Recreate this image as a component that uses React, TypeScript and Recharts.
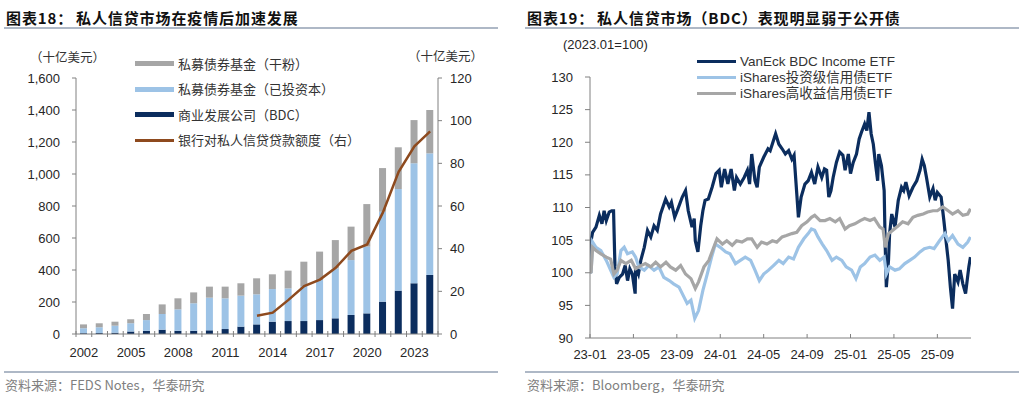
import React from "react";
import { ComposedChart, LineChart, Bar, Line, XAxis, YAxis } from "recharts";

// ---- 图表18 data (十亿美元) ----
const years = [
  2002, 2003, 2004, 2005, 2006, 2007, 2008, 2009, 2010, 2011, 2012, 2013,
  2014, 2015, 2016, 2017, 2018, 2019, 2020, 2021, 2022, 2023, 2024,
];
const bdc = [5, 6, 8, 15, 20, 27, 20, 20, 23, 31, 46, 60, 77, 81, 81, 87, 98, 119, 129, 202, 271, 317, 369];
const invested = [31, 36, 44, 52, 67, 98, 134, 172, 204, 192, 194, 188, 204, 204, 219, 250, 312, 343, 417, 562, 635, 750, 760];
const dryPowder = [24, 25, 25, 25, 38, 60, 69, 68, 69, 73, 77, 100, 92, 111, 152, 178, 177, 209, 266, 273, 261, 270, 271];
const bankLoans = [
  null, null, null, null, null, null, null, null, null, null, null,
  8.6, 10, 16, 22.5, 25.5, 31, 39, 42, 57, 76, 88, 95,
];
const leftTicks = [0, 200, 400, 600, 800, 1000, 1200, 1400, 1600];
const rightTicks = [0, 20, 40, 60, 80, 100, 120];

// ---- 图表19 data (2023.01=100), x = months since 2023-01 ----
const monthTicks = [0, 4, 8, 12, 16, 20, 24, 28, 32];
const monthLabels = ["23-01", "23-05", "23-09", "24-01", "24-05", "24-09", "25-01", "25-05", "25-09"];
const indexTicks = [90, 95, 100, 105, 110, 115, 120, 125, 130];

const vaneckBdc: [number, number][] = [
  [0, 100], [0.1, 104.9], [0.24, 106.2], [0.55, 107], [0.86, 108.8], [1.1, 107.5], [1.3, 109.5],
  [1.5, 108], [1.77, 109.3], [2.0, 109.5], [2.17, 109.5], [2.3, 100.9], [2.45, 98.3], [2.7, 99.3],
  [3.0, 99.8], [3.24, 101.1], [3.46, 98.8], [3.67, 100.6], [3.9, 99.8], [4.16, 96.8], [4.2, 100.9],
  [4.46, 99.8], [4.68, 101.9], [5.0, 103.9], [5.3, 106.5], [5.6, 105.5], [5.9, 107.2], [6.2, 106.5],
  [6.5, 109.0], [6.97, 111.3], [7.3, 110.1], [7.5, 110.8], [7.8, 108.5], [8.1, 109.8], [8.5, 111.6],
  [8.8, 112.6], [9.05, 109.5], [9.4, 107.0], [9.6, 108.3], [9.7, 104.9], [9.94, 103.2], [10.2, 107.2],
  [10.4, 109.5], [10.6, 111.1], [10.9, 111.3], [11.25, 113.1], [11.6, 115.2], [11.9, 115.7],
  [12.1, 113.1], [12.4, 115.9], [12.7, 113.6], [13.0, 115.9], [13.3, 112.6], [13.5, 114.6],
  [13.85, 113.6], [14.2, 114.6], [14.5, 115.7], [14.7, 113.6], [14.9, 118.2], [15.2, 114.1],
  [15.4, 113.1], [15.6, 116.2], [16.0, 117.7], [16.4, 119.0], [16.6, 118.7], [16.85, 120.0],
  [17.1, 121.3], [17.4, 119.7], [17.7, 119.0], [18.0, 118.2], [18.3, 118.7], [18.6, 117.4],
  [18.8, 118], [19.05, 112.1], [19.2, 108.5], [19.45, 111.6], [19.8, 113.6], [20.1, 114.1],
  [20.4, 115.4], [20.7, 113.6], [21.0, 116.2], [21.35, 114.6], [21.6, 115.9], [21.8, 115.7],
  [22.0, 111.6], [22.2, 112.6], [22.4, 114.6], [22.7, 116.9], [23.0, 118.5], [23.3, 118],
  [23.5, 115.7], [23.8, 118.2], [24.0, 115.2], [24.25, 116.9], [24.55, 118.2], [24.8, 120.5],
  [25.0, 121.5], [25.3, 122.8], [25.5, 121.8], [25.7, 124.6], [25.9, 121.3], [26.1, 119.7],
  [26.3, 116.7], [26.5, 114.1], [26.6, 118.2], [26.85, 116.4], [27.1, 112.6], [27.2, 103.9],
  [27.3, 97.8], [27.5, 101.9], [27.6, 106], [27.8, 109], [28.1, 107], [28.4, 111.1], [28.7, 113.1],
  [28.9, 112.6], [29.1, 113.9], [29.4, 111.8], [29.75, 113.1], [30.1, 114.1], [30.4, 115.7],
  [30.6, 117.4], [30.8, 116.4], [31.0, 114.6], [31.3, 111.6], [31.6, 112.9], [31.8, 111.1],
  [32.0, 112.3], [32.35, 111.6], [32.6, 108], [32.8, 104.9], [33.0, 101.9], [33.2, 97.8],
  [33.4, 94.5], [33.6, 99.8], [33.9, 98.6], [34.1, 100.4], [34.35, 98.3], [34.6, 96.8],
  [34.9, 100.9], [35.05, 102.4],
];

const igCredit: [number, number][] = [
  [0, 100], [0.1, 100.1], [0.24, 104.7], [0.55, 103.9], [1.0, 103.4], [1.5, 101.9], [1.9, 100.4],
  [2.2, 99.3], [2.5, 99.8], [2.85, 103.4], [3.15, 103.9], [3.45, 102.9], [3.9, 103.2], [4.2, 102.4],
  [4.5, 100.9], [5.0, 100.4], [5.4, 101.1], [5.9, 100.4], [6.35, 100.9], [6.8, 99.3], [7.3, 98.8],
  [7.7, 98.3], [8.2, 97.8], [8.65, 96.3], [8.95, 95.3], [9.3, 95.8], [9.65, 93.0], [10.0, 94.2],
  [10.4, 97.3], [10.8, 99.8], [11.2, 102.4], [11.55, 104.4], [12.0, 103.9], [12.5, 103.2],
  [12.9, 102.9], [13.4, 101.4], [13.85, 101.9], [14.3, 102.4], [14.8, 101.9], [15.2, 100.4],
  [15.6, 98.8], [16.0, 99.8], [16.45, 100.4], [16.9, 101.1], [17.4, 101.9], [17.8, 101.4],
  [18.3, 102.4], [18.75, 102.1], [19.2, 103.9], [19.7, 105.2], [20.1, 106], [20.4, 106.7],
  [20.7, 106.5], [21.0, 105.5], [21.4, 104.4], [21.8, 103.4], [22.3, 101.9], [22.7, 102.4],
  [23.2, 101.9], [23.6, 100.9], [24.1, 100.4], [24.5, 99.1], [24.9, 100.9], [25.3, 101.4],
  [25.8, 102.4], [26.25, 102.7], [26.7, 101.9], [27.1, 102.4], [27.3, 99.8], [27.6, 100.9],
  [28.1, 100.4], [28.5, 100.6], [29.0, 101.4], [29.45, 101.9], [29.9, 102.4], [30.4, 103.2],
  [30.8, 103.7], [31.3, 103.9], [31.7, 103.7], [32.2, 104.9], [32.7, 106], [33.0, 104.9],
  [33.4, 105.7], [33.9, 104.4], [34.35, 103.9], [34.8, 104.7], [35.05, 105.5],
];

const hyCredit: [number, number][] = [
  [0, 100], [0.1, 100.1], [0.24, 103.9], [0.55, 103.4], [1.0, 102.9], [1.5, 102.4], [1.9, 102.1],
  [2.2, 99.8], [2.5, 100.4], [2.85, 101.9], [3.3, 101.4], [3.8, 101.9], [4.2, 100.6], [4.7, 101.1],
  [5.1, 101.4], [5.6, 100.9], [6.05, 101.6], [6.5, 100.9], [7.0, 101.6], [7.4, 100.9], [7.9, 100.4],
  [8.35, 101.1], [8.8, 99.8], [9.3, 99.1], [9.7, 97.6], [10.0, 98.6], [10.5, 100.9], [10.95, 101.9],
  [11.4, 103.9], [11.7, 105.2], [12.2, 104.4], [12.6, 104.9], [13.1, 104.2], [13.5, 104.9],
  [14.0, 104.7], [14.5, 105.2], [14.9, 105.2], [15.4, 103.9], [15.8, 104.7], [16.3, 104.4],
  [16.8, 104.9], [17.2, 104.7], [17.7, 105.5], [18.1, 105.7], [18.6, 106], [19.05, 106.2],
  [19.5, 107.2], [20.0, 107.8], [20.4, 108.5], [20.7, 108.8], [21.2, 108], [21.65, 108],
  [22.1, 108.3], [22.6, 107.8], [23.0, 108.3], [23.5, 106.7], [23.9, 107.2], [24.4, 107.5],
  [24.9, 108], [25.3, 108.3], [25.8, 108], [26.2, 108.3], [26.7, 107], [27.0, 106.7], [27.2, 103.9],
  [27.5, 106], [27.9, 106.5], [28.4, 107.2], [28.8, 107.8], [29.3, 107.5], [29.75, 108.5],
  [30.2, 108.8], [30.7, 109], [31.1, 109.3], [31.6, 109.5], [32.0, 109.5], [32.5, 110.1],
  [33.0, 109.5], [33.4, 109], [33.9, 109.5], [34.35, 108.8], [34.8, 109], [35.05, 109.8],
];

const SANS = "'Liberation Sans', Arial, sans-serif";
const CJK = "'Noto Sans CJK SC', 'Liberation Sans', sans-serif";
const MIXED = "'Liberation Sans', 'Noto Sans CJK SC', sans-serif";
const TXT = "#262626";
const AXIS = "#808080";
const NAVY = "#0B2D5E";
const LIGHT = "#9DC3E6";
const GREY = "#A6A6A6";
const BROWN = "#8E4A1E";
const RULE = "#AEB8C6";

const LEFT_PLOT_W = 362;
const BAND = LEFT_PLOT_W / years.length;

const barData = years.map((y, i) => ({
  year: String(y),
  bdc: bdc[i],
  invested: invested[i],
  dry: dryPowder[i],
  loans: bankLoans[i],
}));

const toPts = (arr: [number, number][]) => arr.map(([m, v]) => ({ m, v }));

function YearTick(props: any) {
  const { x, y, payload } = props;
  const i = payload.index;
  return (
    <g>
      <line x1={x - BAND / 2} x2={x - BAND / 2} y1={y - 3} y2={y + 3} stroke={AXIS} />
      {i === years.length - 1 && (
        <line x1={x + BAND / 2} x2={x + BAND / 2} y1={y - 3} y2={y + 3} stroke={AXIS} />
      )}
      {i % 3 === 0 && (
        <text x={x} y={y + 22.5} textAnchor="middle" fontSize={13} fill={TXT} fontFamily={SANS}>
          {payload.value}
        </text>
      )}
    </g>
  );
}

function MonthTick(props: any) {
  const { x, y, payload } = props;
  const k = monthTicks.indexOf(payload.value);
  return (
    <g>
      <line x1={x} x2={x} y1={y - 4} y2={y} stroke={AXIS} />
      <text x={x} y={y + 21} textAnchor="middle" fontSize={13} fill={TXT} fontFamily={SANS}>
        {monthLabels[k]}
      </text>
    </g>
  );
}

const abs = (l: number, t: number): React.CSSProperties => ({ position: "absolute", left: l, top: t, whiteSpace: "pre" });

function Title({ left, prefix, body }: { left: number; prefix: string; body: string }) {
  const st: React.CSSProperties = { fontFamily: CJK, fontWeight: 700, fontSize: 15, color: "#111", lineHeight: "20px", letterSpacing: 0.9 };
  return (
    <>
      <div style={{ ...abs(left, 8), ...st }}>{prefix}</div>
      <div style={{ ...abs(left + 70, 8), ...st }}>{body}</div>
    </>
  );
}

function Rule({ left, top, width }: { left: number; top: number; width: number }) {
  return <div style={{ position: "absolute", left, top, width, height: 2, background: RULE }} />;
}

function LegendRow({ left, top, color, h, label, font, size, lh }: { left: number; top: number; color: string; h: number; label: string; font: string; size: number; lh: number }) {
  return (
    <div style={{ position: "absolute", left, top: top - lh / 2, height: lh, display: "flex", alignItems: "center" }}>
      <div style={{ width: 39, height: h, background: color, marginRight: 4 }} />
      <span style={{ fontFamily: font, fontSize: size, lineHeight: `${lh}px`, color: "#333", whiteSpace: "pre" }}>{label}</span>
    </div>
  );
}

const leftLegend = [
  { label: "私募债券基金（干粉）", color: GREY, h: 5 },
  { label: "私募债券基金（已投资本）", color: LIGHT, h: 5 },
  { label: "商业发展公司（BDC）", color: NAVY, h: 5 },
  { label: "银行对私人信贷贷款额度（右）", color: BROWN, h: 3 },
];
const rightLegend = [
  { label: "VanEck BDC Income ETF", color: NAVY },
  { label: "iShares投资级信用债ETF", color: LIGHT },
  { label: "iShares高收益信用债ETF", color: GREY },
];

export default function App() {
  return (
    <div style={{ position: "absolute", left: 0, top: 0, width: 1024, height: 397, background: "#fff", overflow: "hidden" }}>
      <Title left={6} prefix="图表18：" body="私人信贷市场在疫情后加速发展" />
      <Title left={527} prefix="图表19：" body="私人信贷市场（BDC）表现明显弱于公开债" />
      <Rule left={4} top={27} width={494} />
      <Rule left={525} top={27} width={494} />
      <Rule left={4} top={371} width={494} />
      <Rule left={525} top={371} width={494} />
      <div style={{ ...abs(5, 375), fontFamily: CJK, fontSize: 13, color: "#808080" }}>资料来源：FEDS Notes，华泰研究</div>
      <div style={{ ...abs(527, 375), fontFamily: CJK, fontSize: 13, color: "#808080" }}>资料来源：Bloomberg，华泰研究</div>

      <div style={{ position: "absolute", left: 0, top: 0 }}>
        <ComposedChart width={512} height={397} data={barData} margin={{ top: 78, right: 34, bottom: 33, left: 31 }}>
          <XAxis
            dataKey="year"
            interval={0}
            tickSize={0}
            tickMargin={0}
            tickLine={false}
            height={30}
            axisLine={{ stroke: AXIS }}
            tick={<YearTick />}
          />
          <YAxis
            yAxisId="left"
            width={45}
            domain={[0, 1600]}
            ticks={leftTicks}
            tickFormatter={(v: number) => v.toLocaleString("en-US")}
            tickSize={4}
            tickMargin={12}
            axisLine={{ stroke: AXIS }}
            tickLine={{ stroke: AXIS }}
            tick={{ fontSize: 13, fill: TXT, fontFamily: SANS }}
          />
          <YAxis
            yAxisId="right"
            orientation="right"
            width={40}
            domain={[0, 120]}
            ticks={rightTicks}
            tickSize={4}
            tickMargin={8}
            axisLine={{ stroke: AXIS }}
            tickLine={{ stroke: AXIS }}
            tick={{ fontSize: 13, fill: TXT, fontFamily: SANS, textAnchor: "start" }}
          />
          <Bar yAxisId="left" dataKey="bdc" stackId="s" fill={NAVY} barSize={7} isAnimationActive={false} />
          <Bar yAxisId="left" dataKey="invested" stackId="s" fill={LIGHT} barSize={7} isAnimationActive={false} />
          <Bar yAxisId="left" dataKey="dry" stackId="s" fill={GREY} barSize={7} isAnimationActive={false} />
          <Line yAxisId="right" dataKey="loans" stroke={BROWN} strokeWidth={2.5} dot={false} type="linear" isAnimationActive={false} />
        </ComposedChart>
      </div>

      <div style={{ ...abs(30, 47), fontFamily: CJK, fontSize: 12.5, color: "#333" }}>（十亿美元）</div>
      <div style={{ ...abs(408, 46), fontFamily: CJK, fontSize: 12.5, color: "#333" }}>（十亿美元）</div>
      {leftLegend.map((l, i) => (
        <LegendRow key={l.label} left={135} top={63.5 + i * 25.5} color={l.color} h={l.h} label={l.label} font={CJK} size={13} lh={20} />
      ))}

      <div style={{ position: "absolute", left: 512, top: 0 }}>
        <LineChart width={512} height={397} margin={{ top: 77, right: 53, bottom: 29, left: 38 }}>
          <XAxis
            dataKey="m"
            type="number"
            domain={[0, 35.1]}
            ticks={monthTicks}
            allowDataOverflow
            tickSize={0}
            tickMargin={0}
            tickLine={false}
            height={30}
            axisLine={{ stroke: AXIS }}
            tick={<MonthTick />}
          />
          <YAxis
            width={40}
            domain={[90, 130]}
            ticks={indexTicks}
            tickSize={5}
            tickMargin={12}
            axisLine={{ stroke: AXIS }}
            tickLine={{ stroke: AXIS }}
            tick={{ fontSize: 13, fill: TXT, fontFamily: SANS }}
          />
          <Line data={toPts(vaneckBdc)} dataKey="v" stroke={NAVY} strokeWidth={3.2} dot={false} type="linear" isAnimationActive={false} />
          <Line data={toPts(igCredit)} dataKey="v" stroke={LIGHT} strokeWidth={3.2} dot={false} type="linear" isAnimationActive={false} />
          <Line data={toPts(hyCredit)} dataKey="v" stroke={GREY} strokeWidth={3.2} dot={false} type="linear" isAnimationActive={false} />
        </LineChart>
      </div>

      <div style={{ ...abs(563, 37), fontFamily: SANS, fontSize: 13, color: TXT }}>(2023.01=100)</div>
      {rightLegend.map((l, i) => (
        <LegendRow key={l.label} left={697} top={61 + i * 16.3} color={l.color} h={3} label={l.label} font={MIXED} size={13.5} lh={15} />
      ))}
    </div>
  );
}
